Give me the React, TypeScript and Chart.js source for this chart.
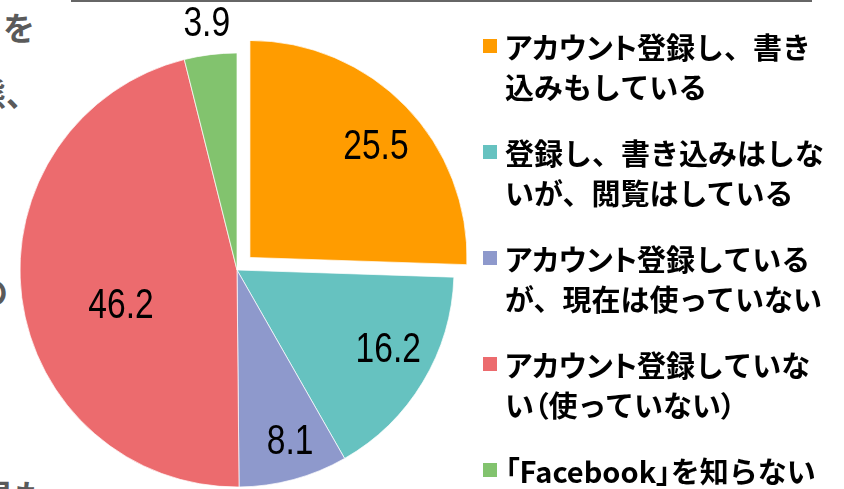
import React, { useEffect, useRef } from "react";
import { Chart, registerables } from "chart.js";

Chart.register(...registerables);

const categories = [
  "アカウント登録し、書き\n込みもしている",
  "登録し、書き込みはしな\nいが、閲覧はしている",
  "アカウント登録している\nが、現在は使っていない",
  "アカウント登録していな\nい（使っていない）",
  "「Facebook」を知らない",
];
const values = [25.5, 16.2, 8.1, 46.2, 3.9];
const colors = ["#FF9C00", "#66C2C0", "#8E99CC", "#EC6B6E", "#82C36E"];
const offsets = [72, 0, 0, 0, 0];
// label placement: fraction of radius, angle tweak (deg)
const labelRadius = [0.77, 0.79, 0.83, 0.56, 1.14];
const labelAngle = [3, -3, -2, -10, 0];

const sideTexts = [
  { text: "を", right: 35, top: 6 },
  { text: "の利用状態、", right: 38, top: 72 },
  { text: "その他の", right: 8, top: 270 },
  { text: "ご意見も", right: 46, top: 474 },
];

const labelPlugin = {
  id: "sliceLabels",
  afterDatasetsDraw(chart: any) {
    const ctx = chart.ctx;
    const meta = chart.getDatasetMeta(0);
    ctx.save();
    ctx.fillStyle = "#000";
    ctx.textAlign = "center";
    ctx.textBaseline = "middle";
    ctx.font = "42px 'Liberation Sans', Arial, sans-serif";
    meta.data.forEach((arc: any, i: number) => {
      const p = arc.getProps(["x", "y", "startAngle", "endAngle", "outerRadius"], true);
      const mid = (p.startAngle + p.endAngle) / 2;
      const circ = p.endAngle - p.startAngle;
      const off = (arc.options.offset || 0) / 4;
      const fix = 1 - Math.sin(Math.min(Math.PI, circ));
      const shift = off + off * fix;
      const cx = p.x + Math.cos(mid) * shift;
      const cy = p.y + Math.sin(mid) * shift;
      const a = mid + (labelAngle[i] * Math.PI) / 180;
      const r = p.outerRadius * labelRadius[i];
      const lx = cx + Math.cos(a) * r;
      const ly = cy + Math.sin(a) * r;
      ctx.save();
      ctx.translate(lx, ly);
      ctx.scale(0.8, 1);
      ctx.fillText(values[i].toFixed(1), 0, 0);
      ctx.restore();
    });
    ctx.restore();
  },
};

const NARROW = /[ァ-ヶー「」（）]/;
function renderLine(line: string) {
  const parts = line.match(/[ァ-ヶー「」（）]+|[^ァ-ヶー「」（）]+/g) || [];
  return parts.map((p, k) =>
    NARROW.test(p) ? (
      <span key={k} style={{ fontFeatureSettings: "'palt'" }}>
        {p}
      </span>
    ) : (
      <span key={k}>{p}</span>
    )
  );
}

export default function App() {
  const ref = useRef<HTMLCanvasElement | null>(null);

  useEffect(() => {
    const canvas = ref.current;
    if (!canvas) return;
    const chart = new Chart(canvas, {
      type: "pie",
      data: {
        labels: categories.map((c) => c.replace("\n", "")),
        datasets: [
          {
            data: values,
            backgroundColor: colors,
            borderColor: "rgba(255,255,255,0.7)",
            borderWidth: 1,
            offset: offsets,
            clip: false as any,
          },
        ],
      },
      options: {
        responsive: false,
        animation: false,
        radius: 217,
        layout: { padding: { left: 0, top: 51, right: 370, bottom: 0 } },
        plugins: {
          legend: { display: false },
          tooltip: { enabled: false },
        },
      } as any,
      plugins: [labelPlugin],
    });
    return () => chart.destroy();
  }, []);

  return (
    <div
      style={{
        position: "fixed",
        left: 0,
        top: 0,
        width: 844,
        height: 489,
        overflow: "hidden",
        background: "#fff",
      }}
    >
      {sideTexts.map((s, i) => (
        <span
          key={i}
          style={{
            position: "absolute",
            right: 844 - s.right,
            top: s.top,
            whiteSpace: "nowrap",
            fontFamily: "'Noto Sans CJK JP', sans-serif",
            fontWeight: 700,
            fontSize: 32,
            lineHeight: "40px",
            color: "#5a5a5a",
          }}
        >
          {s.text}
        </span>
      ))}
      <div
        style={{
          position: "absolute",
          left: 71,
          top: 0,
          width: 741,
          height: 2,
          background: "#666",
        }}
      />
      <canvas ref={ref} width={844} height={489} style={{ position: "absolute", left: 0, top: 0 }} />
      {categories.map((c, i) => (
        <div key={i} style={{ position: "absolute", left: 483, top: 26 + i * 106 }}>
          <div
            style={{
              position: "absolute",
              left: 0,
              top: 13,
              width: 14,
              height: 14,
              background: colors[i],
            }}
          />
          <div
            style={{
              position: "absolute",
              left: 22,
              top: 0,
              whiteSpace: "nowrap",
              fontFamily: "'Noto Sans CJK JP', sans-serif",
              fontWeight: 700,
              fontSize: 29,
              lineHeight: "40px",
              color: "#000",
            }}
          >
            {c.split("\n").map((line, j) => (
              <div key={j}>{renderLine(line)}</div>
            ))}
          </div>
        </div>
      ))}
    </div>
  );
}
